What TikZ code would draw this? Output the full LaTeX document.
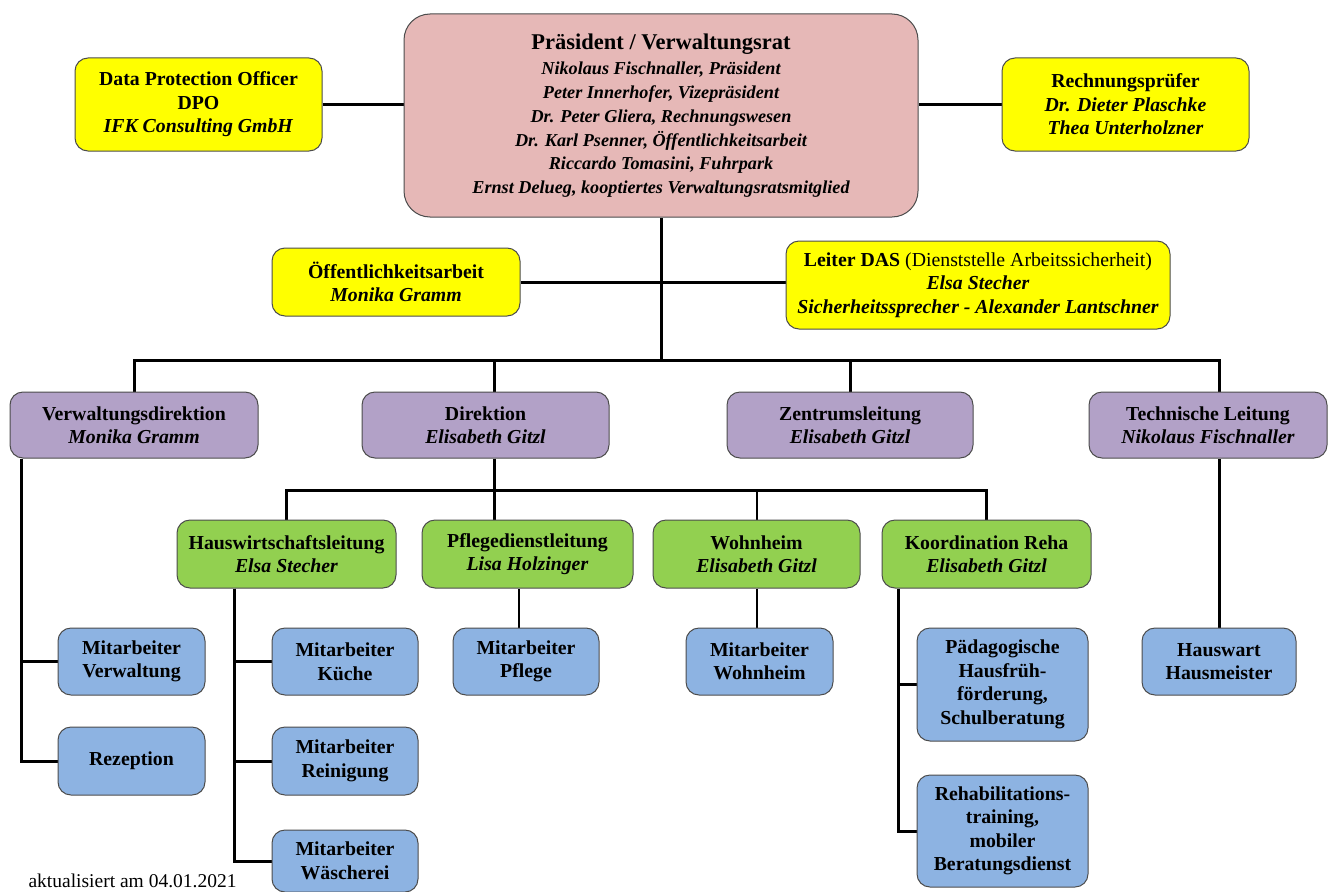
\documentclass[tikz,border=0pt]{standalone}
\usepackage{fontspec}
\setmainfont{Liberation Serif}
\usetikzlibrary{positioning, calc, backgrounds}
\definecolor{praesrosa}{RGB}{230,184,183}
\definecolor{stabgelb}{RGB}{255,255,0}
\definecolor{leitlila}{RGB}{178,161,199}
\definecolor{bereichgruen}{RGB}{146,208,80}
\definecolor{teamblau}{RGB}{141,179,226}
\tikzset{box/.style={draw=black!70, line width=1pt, rounded corners=13pt, align=center, inner sep=0pt, font=\bfseries\fontsize{19.8}{23.5}\selectfont}}
\tikzset{praesbox/.style={box, fill=praesrosa, rounded corners=26pt, font=\bfseries\itshape\fontsize{18.2}{23.7}\selectfont}}
\tikzset{stab/.style={box, fill=stabgelb}}
\tikzset{leitung/.style={box, fill=leitlila}}
\tikzset{bereich/.style={box, fill=bereichgruen}}
\tikzset{team/.style={box, fill=teamblau}}
\tikzset{link/.style={line width=3pt, black}}
\tikzset{thinlink/.style={line width=2pt, black}}

\begin{document}
\begin{tikzpicture}[x=1pt, y=-1pt]
      \useasboundingbox (0,0) rectangle (1329,891);

      % Verwaltungsrat und Stabsstellen
      \node[praesbox, minimum width=514, minimum height=203] (praes) at (661,115.5)
      {{\upshape\fontsize{22.5}{27}\selectfont Präsident / Verwaltungsrat}\\[2pt]
       Nikolaus Fischnaller, Präsident\\ Peter Innerhofer, Vizepräsident\\
       Dr. Peter Gliera, Rechnungswesen\\ Dr. Karl Psenner, Öffentlichkeitsarbeit\\
       Riccardo Tomasini, Fuhrpark\\ Ernst Delueg, kooptiertes Verwaltungsratsmitglied};
      \node[stab, minimum width=247, minimum height=93] (dpo) at (198.5,104.5)
      {Data Protection Officer\\ DPO\\ \textit{IFK Consulting GmbH}};
      \node[stab, minimum width=247, minimum height=93] (revisor) at (1125.5,104.5)
      {Rechnungsprüfer\\ \textit{Dr. Dieter Plaschke}\\ \textit{Thea Unterholzner}};
      \node[stab, minimum width=248, minimum height=68] (oeffentl) at (396,282)
      {Öffentlichkeitsarbeit\\ \textit{Monika Gramm}};
      \node[stab, minimum width=384, minimum height=88] (das) at (978,285)
      {Leiter DAS {\mdseries (Dienststelle Arbeitssicherheit)}\\ \textit{Elsa Stecher}\\
       \textit{Sicherheitssprecher - Alexander Lantschner}};

      % Leitungsebene
      \node[leitung, minimum width=248, minimum height=66] (verw) at (134,425)
      {Verwaltungsdirektion\\ \textit{Monika Gramm}};
      \node[leitung, minimum width=247, minimum height=66] (dir) at (485.5,425)
      {Direktion\\ \textit{Elisabeth Gitzl}};
      \node[leitung, minimum width=246, minimum height=66] (zentrum) at (850,425)
      {Zentrumsleitung\\ \textit{Elisabeth Gitzl}};
      \node[leitung, minimum width=238, minimum height=66] (technik) at (1208,425)
      {Technische Leitung\\ \textit{Nikolaus Fischnaller}};

      % Bereiche
      \node[bereich, minimum width=219, minimum height=68] (hausw) at (286.5,554)
      {Hauswirtschaftsleitung\\ \textit{Elsa Stecher}};
      \node[bereich, minimum width=211, minimum height=68] (pflege) at (527.5,554)
      {Pflegedienstleitung\\ \textit{Lisa Holzinger}};
      \node[bereich, minimum width=207, minimum height=68] (wohnh) at (756.5,554)
      {Wohnheim\\ \textit{Elisabeth Gitzl}};
      \node[bereich, minimum width=209, minimum height=68] (koord) at (986.5,554)
      {Koordination Reha\\ \textit{Elisabeth Gitzl}};

      % Mitarbeiter
      \node[team, minimum width=147, minimum height=67] (maverw) at (131.5,661.5) {Mitarbeiter\\ Verwaltung};
      \node[team, minimum width=147, minimum height=68] (rezept) at (131.5,761) {Rezeption};
      \node[team, minimum width=146, minimum height=67] (makueche) at (345,661.5) {Mitarbeiter\\ Küche};
      \node[team, minimum width=146, minimum height=68] (mareinig) at (345,761) {Mitarbeiter\\ Reinigung};
      \node[team, minimum width=146, minimum height=62] (mawaesche) at (345,861) {Mitarbeiter\\ Wäscherei};
      \node[team, minimum width=146, minimum height=67] (mapflege) at (526,661.5) {Mitarbeiter\\ Pflege};
      \node[team, minimum width=147, minimum height=67] (mawohnh) at (759.5,661.5) {Mitarbeiter\\ Wohnheim};
      \node[team, minimum width=171, minimum height=113] (paed) at (1002.5,684.5)
      {Pädagogische\\ Hausfrüh-\\ förderung,\\ Schulberatung};
      \node[team, minimum width=171, minimum height=112] (rehab) at (1002.5,831)
      {Rehabilitations-\\ training,\\ mobiler\\ Beratungsdienst};
      \node[team, minimum width=154, minimum height=67] (hauswart) at (1219,661.5) {Hauswart\\ Hausmeister};

      \node[anchor=west, font=\fontsize{19.5}{23}\selectfont] (stand) at (25,881) {aktualisiert am 04.01.2021};

      % Verbindungen
      \coordinate (bus) at (661,360);
      \coordinate (dirbus) at (494,490);
      \coordinate (hwline) at (234,0);
      \coordinate (rehaline) at (898,0);
      \begin{scope}[on background layer]
        \draw[link] (dpo.east) -- (dpo.east -| praes.west);
        \draw[link] (revisor.west) -- (revisor.west -| praes.east);
        \draw[link] (oeffentl.east) -- (oeffentl.east -| das.west);
        \draw[link] (praes.south) -- (bus);
        \draw[link] (verw.north) |- (bus) -| (technik.north -| hauswart.north);
        \draw[link] (bus) -| (zentrum.north);
        \draw[link] (bus) -| (dirbus |- dir.north);
        \draw[link] (hauswart.north) -- (hauswart.north |- technik.south);
        \draw[link] (dirbus |- dir.south) -- (dirbus |- pflege.north);
        \draw[link] (hausw.north) |- (dirbus) -| (koord.north);
        \draw[thinlink] (wohnh.north) -- (wohnh.north |- dirbus);
        \draw[link] ([xshift=12]verw.south west) |- (maverw.west);
        \draw[link] ([xshift=12]verw.south west) |- (rezept.west);
        \draw[link] (hwline |- hausw.south) |- (makueche.west);
        \draw[link] (hwline |- hausw.south) |- (mareinig.west);
        \draw[link] (hwline |- hausw.south) |- (mawaesche.west);
        \draw[thinlink] (mapflege.north -| 519,0) -- (pflege.south -| 519,0);
        \draw[thinlink] (wohnh.south) -- (wohnh.south |- mawohnh.north);
        \draw[link] (rehaline |- koord.south) |- (paed.west);
        \draw[link] (rehaline |- koord.south) |- (rehab.west);
      \end{scope}
\end{tikzpicture}
\end{document}
